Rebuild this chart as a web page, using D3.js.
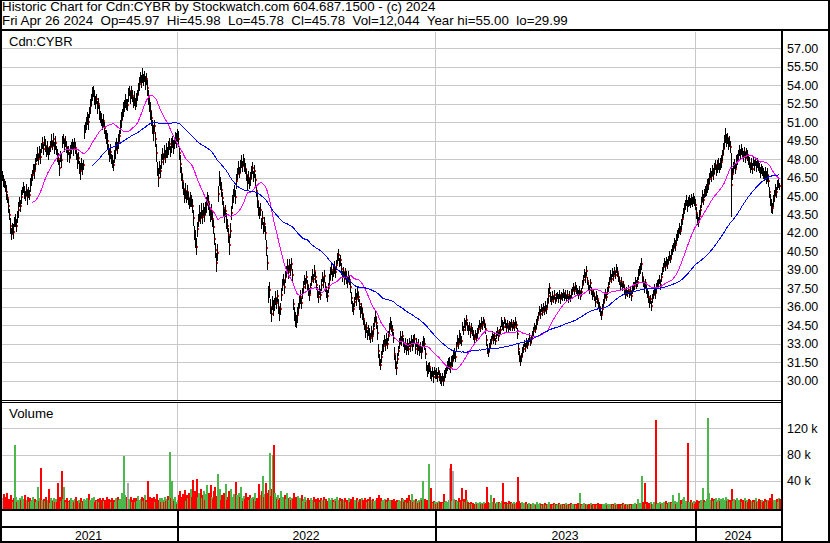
<!DOCTYPE html>
<html><head><meta charset="utf-8">
<script src="https://cdn.jsdelivr.net/npm/d3@7"></script>
<style>
body{margin:0;background:#fff}
svg{display:block}
text{font-family:"Liberation Sans",Arial,sans-serif;fill:#000;white-space:pre}
</style>
</head><body>
<svg id="c" width="830" height="543"></svg>
<script>
// ---------- DATA ----------
const headerLines = [
  "Historic Chart for Cdn:CYBR by Stockwatch.com 604.687.1500 - (c) 2024",
  "Fri Apr 26 2024  Op=45.97  Hi=45.98  Lo=45.78  Cl=45.78  Vol=12,044  Year hi=55.00  lo=29.99"
];
const symbolLabel = "Cdn:CYBR";
const volumeLabel = "Volume";
const priceTicks = [57,55.5,54,52.5,51,49.5,48,46.5,45,43.5,42,40.5,39,37.5,36,34.5,33,31.5,30];
const volumeTicks = [40000,80000,120000];
const years = ["2021","2022","2023","2024"];
const yearStartIdx = [175,433,693];
const maPeriods = [30,90];

// daily closes (one per trading day, left to right)
const close = [
46.6,46.2,46.0,45.8,45.3,44.8,44.2,43.5,
42.6,41.9,42.4,42.1,42.9,43.0,42.6,43.3,
43.9,44.5,44.2,44.9,45.4,45.7,
45.3,45.0,45.5,44.9,45.3,45.1,45.9,
46.3,46.7,47.2,47.0,47.6,
48.1,48.4,48.0,48.6,48.2,
48.9,49.3,48.8,49.5,49.1,
48.6,48.9,48.4,48.7,49.0,
49.5,49.1,49.6,48.9,49.3,
48.7,48.3,48.0,47.3,48.2,
47.9,49.4,49.6,49.1,49.4,
49.0,48.4,48.7,48.1,48.6,
48.9,49.2,48.8,49.3,48.9,
48.4,47.8,48.1,47.3,47.0,
47.6,47.2,47.5,
50.2,50.6,50.9,51.3,51.0,
51.8,52.3,52.8,53.3,53.5,
53.0,52.6,52.9,52.2,52.5,51.8,51.4,
51.2,50.8,51.1,50.5,50.0,49.8,
49.5,48.8,48.3,48.6,48.0,47.8,47.5,48.2,
48.7,49.2,48.9,49.4,49.9,
50.6,51.2,51.6,52.0,
52.3,52.7,52.4,52.4,
53.2,53.5,53.0,53.4,53.1,
52.6,52.9,52.5,52.8,53.2,
53.7,54.1,54.6,54.3,
54.8,54.4,54.7,54.2,54.5,53.8,
53.0,52.4,51.9,
51.3,50.6,50.1,50.7,49.6,
48.5,47.2,46.5,47.3,47.0,
47.8,48.4,48.0,48.6,48.2,48.7,48.5,
48.9,49.2,48.6,49.1,49.4,49.0,
49.3,49.7,49.5,49.9,49.6,
48.5,47.6,46.8,46.2,
45.6,45.0,45.4,44.9,45.3,
44.8,44.4,44.7,44.6,44.2,
43.2,42.0,41.5,40.9,42.3,
43.0,43.6,43.2,43.8,43.3,43.9,43.5,44.0,
44.3,44.8,44.5,
43.9,43.4,43.7,43.1,42.5,
41.5,40.6,39.6,40.4,
45.2,46.4,46.0,45.5,44.8,
44.0,43.4,43.8,43.0,42.6,
41.8,41.0,42.2,
43.6,44.5,45.0,45.4,44.9,
46.2,46.8,47.3,46.9,47.4,
47.8,47.4,47.9,47.5,47.2,
46.7,46.1,46.5,46.0,46.4,
46.9,47.3,46.6,47.0,46.3,
45.4,44.6,44.0,43.6,43.9,
42.8,43.2,42.4,42.7,42.0,
40.8,39.6,37.0,
37.4,36.0,35.4,36.3,
35.9,36.2,36.7,36.3,36.9,
36.0,35.4,35.8,
37.0,37.8,38.2,37.6,38.4,
38.9,39.3,38.8,39.4,39.0,39.5,38.6,
36.2,35.4,35.0,
34.8,35.3,35.9,
36.4,36.8,36.3,37.1,
37.6,38.2,37.9,38.4,37.8,
37.3,37.0,37.5,
38.1,38.6,38.3,38.9,38.4,
37.8,37.2,36.8,37.4,37.0,
37.8,38.4,38.0,38.5,37.6,
37.2,36.9,37.5,
38.2,38.7,39.0,38.5,38.9,39.2,38.8,
39.4,39.9,40.2,39.6,39.8,
39.1,38.5,38.8,38.3,38.7,
38.4,38.0,38.5,38.2,37.6,
36.7,36.0,35.8,
36.4,37.0,36.6,37.2,36.8,
36.2,35.6,35.9,35.4,35.0,
34.5,34.0,34.3,33.7,34.1,
33.8,33.5,34.0,33.6,34.2,
34.8,35.2,34.7,33.9,
32.4,31.7,31.3,31.9,32.5,
32.8,33.3,32.9,33.4,33.0,33.6,
34.2,34.7,34.4,34.1,33.5,
32.2,31.5,31.0,31.8,32.4,
33.0,33.5,33.2,33.6,33.1,
32.7,33.0,32.5,32.9,32.6,
33.1,32.8,33.3,32.9,33.2,
33.4,32.6,33.1,32.5,32.9,
32.4,32.7,32.3,32.8,33.2,
33.0,32.2,
31.2,30.8,31.0,31.1,30.6,
30.4,30.7,30.3,30.8,30.5,
30.6,30.3,30.8,30.4,30.2,
30.0,30.3,30.0,30.4,30.6,
30.9,31.2,31.4,31.4,31.1,
31.6,31.6,32.0,32.2,31.9,
32.8,33.3,33.0,33.6,33.4,
33.2,34.4,34.1,34.7,34.5,34.9,34.4,
34.1,34.4,33.9,34.3,34.0,
33.7,33.4,33.8,33.5,33.9,
34.2,34.6,34.3,34.8,34.5,34.9,34.6,34.2,
33.3,32.6,32.3,32.7,33.0,
33.3,33.7,33.4,33.6,33.2,
33.7,34.0,33.6,33.9,34.1,
34.8,34.5,34.4,34.9,34.6,
34.3,34.6,34.2,34.5,34.4,
34.7,34.3,34.6,34.4,34.8,34.5,33.8,
32.6,32.0,31.6,31.9,32.3,
32.6,33.0,32.7,33.1,32.9,
33.2,33.5,33.1,33.4,33.7,
34.0,34.4,34.2,34.6,34.9,
35.3,35.7,35.4,35.9,35.6,36.0,
35.7,36.1,35.8,36.3,
36.9,37.5,36.8,36.5,36.9,
36.6,37.0,36.5,36.8,36.9,
36.7,37.0,36.6,36.9,36.8,
37.1,36.8,37.0,36.7,37.0,
36.6,36.9,36.7,37.1,37.3,
37.6,37.3,37.7,37.4,37.2,
37.0,37.3,36.9,37.2,37.8,
38.2,38.7,38.4,38.9,38.1,
37.7,37.4,37.9,
37.3,36.9,37.1,
36.8,36.4,36.9,36.6,36.2,
36.0,35.6,35.3,35.8,36.3,
36.7,37.1,36.8,37.3,37.6,
38.1,38.6,38.3,38.8,38.5,
38.9,38.6,39.1,38.8,38.4,
38.1,37.7,38.0,37.6,37.8,
37.4,37.0,37.3,37.1,37.4,
37.0,37.3,36.9,37.4,37.6,
37.7,38.1,37.8,38.0,38.6,
38.9,39.1,39.5,38.4,
38.0,37.6,37.9,37.4,37.1,
36.8,36.3,36.6,36.1,36.7,
37.0,37.4,37.1,37.5,37.8,
37.9,38.2,37.8,38.4,38.9,
39.2,39.6,39.3,39.7,39.5,
39.8,40.1,39.9,40.3,40.6,
40.8,41.2,41.0,41.5,41.8,
42.0,42.4,42.2,42.7,
43.1,43.6,44.0,44.3,44.6,
44.2,44.5,44.6,44.4,44.7,44.5,
44.8,44.6,44.3,
43.6,43.1,42.9,43.4,43.9,
44.5,45.0,44.7,45.2,45.4,
45.5,45.8,46.0,
46.4,46.9,46.6,47.1,46.8,
47.2,47.5,47.1,47.4,47.6,
47.3,47.6,47.8,48.3,
48.8,49.4,49.9,49.5,49.7,49.2,
49.4,49.0,45.9,
46.8,47.3,47.6,47.2,47.8,48.0,
48.3,48.7,48.4,48.8,48.5,
48.2,48.6,48.1,48.5,48.3,47.9,
47.7,47.3,47.6,47.2,47.8,
47.5,47.8,47.4,47.7,47.5,
47.3,46.9,47.2,47.0,46.8,
46.6,46.9,46.5,46.7,46.2,
45.3,44.7,44.2,44.0,44.6,
45.0,45.5,45.3,45.9,
46.0,45.78
];

// daily high-low spread, in tenths of a dollar
const spread = [
8,10,7,9,12,8,11,9,13,10, 9,12,8,11,10,9,13,8,10,11, 7,9,11,8,10,12,9,8,11,10, 9,8,12,10,7,11,9,10,12,8,
10,9,8,11,9,12,10,8,9,11, 8,10,9,12,8,11,10,13,9,12, 10,8,11,9,10,12,8,9,11,10, 9,11,8,10,9,12,10,11,14,9,
10,8,12,9,11,10,13,9,12,10, 11,9,12,10,8,11,9,12,10,11, 9,12,10,8,11,13,9,10,12,8, 10,9,11,14,10,9,12,10,11,13,
9,12,10,11,9,10,12,8,11,10, 10,9,12,10,11,9,10,12,9,11, 12,10,9,11,10,13,12,11,14,12, 11,13,10,12,14,12,16,11,10,12,
10,9,11,10,12,9,11,10,9,12, 10,11,9,10,12,11,13,12,14,11,
12,10,11,13,10,12,11,9,12,10, 11,13,12,15,14,12,11,13,10,12, 11,10,12,11,13,10,12,11,10,13, 12,11,10,12,16,14,13,12,11,12,
10,12,11,10,13,11,12,15,12,11, 11,12,10,11,12,10,11,9,10,11, 9,10,11,9,10,12,10,9,11,10, 10,9,11,10,9,11,12,10,11,9,
11,10,12,11,13,12,14,13,12,12, 11,13,10,11,9,10,12,11,10,11, 10,9,11,10,9,11,10,9,10,9, 10,9,11,12,10,13,9,10,11,9,
9,10,8,9,10,8,9,10,9,8,
9,8,10,9,8,9,10,8,9,10, 8,9,10,8,9,10,8,9,10,9, 8,9,10,9,8,9,10,8,9,10, 9,8,10,9,11,10,9,8,9,10,
9,10,8,9,10,9,8,9,10,9, 10,9,8,10,9,8,9,10,8,9, 9,10,8,9,10,12,11,10,9,10, 9,10,8,9,10,9,8,9,10,9,
8,9,10,11,10,9,8,9,10,8, 9,8,9,10,8,9,10,8,9,8, 9,10,8,9,8,9,10,8,9,10, 9,8,10,9,8,10,9,8,9,8,
8,9,7,8,9,8,7,8,9,8,
7,8,9,8,7,8,9,10,9,8, 9,8,9,8,7,8,9,10,9,8, 8,7,8,9,8,7,8,7,8,7, 7,8,7,6,7,8,7,6,7,8,
7,6,7,8,9,8,7,8,7,6, 7,8,7,6,7,8,7,6,7,8, 8,7,6,7,8,7,6,7,8,7, 6,7,8,7,6,9,10,9,8,7,
8,7,6,7,8,7,6,7,6,7, 6,7,6,7,8,7,6,7,8,7, 7,6,7,8,7,8,12,9,8,7, 7,6,7,6,7,6,7,8,7,6,
6,7,6,7,6,7,6,7,6,7, 7,6,7,6,7,6,7,8,7,6, 7,8,7,9,8,7,6,7,8,7, 7,6,7,8,7,8,7,8,7,8,
8,7,8,7,6,7,8,7,8,7, 7,8,7,6,7,8,7,6,7,8, 7,6,7,8,7,6,7,6,7,8, 7,8,7,6,7,8,9,8,9,10,
9,8,9,8,7,8,9,8,7,8, 7,8,9,10,8,7,8,7,8,7, 7,8,7,8,7,8,7,8,7,8, 8,7,8,9,8,9,8,9,8,9,
9,8,9,8,9,10,8,9,8,9, 8,9,8,9,10,9,8,9,8,9,
10,9,8,9,10,11,10,9,8,9, 9,10,9,8,9,10,9,8,9,10, 9,10,11,12,10,9,10,9,10,52, 10,9,8,9,10,9,8,9,8,9,
8,9,8,9,8,9,8,9,8,9, 9,8,9,8,9,8,9,8,9,8, 8,9,8,9,10,12,10,9,10,11, 9,10,9,10,9,8,7,6
];

// daily volume, thousands of shares
const volumeK = [
14,20,8,15,22,9,12,6,18,10, 8,13,95,16,7,11,9,14,10,17, 12,6,19,8,11,15,7,13,9,10, 16,8,12,7,11,30,9,14,59,10,
7,12,9,15,8,11,27,6,13,10, 9,14,7,12,8,36,11,15,9,55, 12,30,10,8,13,9,7,11,14,6, 10,8,12,15,7,9,11,6,13,8,
9,12,7,10,14,8,20,11,9,13, 6,15,8,11,9,12,7,14,10,8, 13,9,11,6,15,8,12,10,7,14, 9,11,8,13,7,15,10,12,9,22,
14,78,18,11,15,37,12,9,16,8, 11,14,7,13,9,17,10,8,12,15, 9,13,18,11,8,39,12,15,9,14, 10,16,8,12,20,11,9,14,7,13,
11,8,15,9,12,17,10,84,14,39, 12,9,15,7,5,11,18,24,10,15, 20,12,26,9,18,14,22,11,28,16, 41,19,25,12,42,15,21,10,28,13,
18,24,11,20,33,14,22,9,33,16, 12,25,30,17,11,50,14,27,10,19, 13,22,17,35,11,16,24,9,28,15, 12,20,14,38,18,10,22,16,30,13,
9,17,12,21,8,15,11,19,14,10, 16,12,22,9,14,13,35,11,18,24, 48,15,20,36,13,21,26,83,17,28, 80,95,22,16,12,19,10,14,25,11,
15,9,18,12,21,8,13,16,10,14, 12,22,9,15,11,17,8,13,10,19, 9,12,15,8,11,14,7,10,13,9, 11,16,8,12,9,14,10,7,13,11,
8,15,10,12,7,9,14,11,8,13, 10,7,12,9,16,8,11,13,9,12, 8,10,14,7,11,9,13,8,12,10, 15,9,11,7,13,10,8,12,9,14,
10,8,13,11,7,12,9,15,8,10, 12,9,7,11,14,8,18,10,13,9, 11,8,12,10,7,13,9,11,8,10, 7,12,9,6,10,8,11,7,9,13,
12,7,10,8,14,6,18,9,11,20, 8,10,7,12,9,6,11,8,14,10, 40,9,12,7,10,11,65,18,29,8, 6,9,7,5,8,6,9,7,5,8,
6,20,7,9,5,8,11,59,66,9, 55,12,8,10,9,7,14,8,11,29, 9,12,7,26,10,8,6,5,7,4, 6,5,4,7,5,6,4,8,5,6,
5,7,4,6,30,8,5,6,18,7, 5,14,6,4,8,5,7,6,5,9, 36,7,5,8,6,4,9,5,7,6, 5,8,4,6,7,45,9,6,5,8,
4,6,5,7,4,5,6,3,5,4, 6,4,5,3,7,4,5,6,4,3, 5,4,6,3,4,5,7,3,4,5, 3,6,4,5,3,4,6,5,3,4,
5,3,4,6,3,5,4,3,6,4, 3,5,4,3,5,6,4,22,5,3, 4,6,3,5,4,3,5,4,6,3, 4,3,5,4,3,6,4,5,3,4,
5,3,4,6,3,4,5,3,4,5, 3,4,6,3,5,4,3,5,4,3, 6,4,3,5,4,3,4,5,3,4, 5,3,6,4,5,12,4,6,5,48,
8,6,36,5,7,4,6,5,8,4, 5,7,6,132,4,6,5,8,4,6, 5,7,4,9,5,6,8,5,7,6, 18,6,9,5,7,8,22,6,10,5,
12,15,7,9,6,97,8,5,10,7, 6,9,5,8,10,7,9,6,11,8, 29,10,7,9,12,135,22,11,8,14, 9,12,10,13,8,11,14,9,12,10,
13,8,11,15,9,12,10,7,11,28, 9,12,8,10,13,7,11,9,12,8, 10,7,13,9,11,8,12,10,7,9, 11,8,10,13,7,9,12,8,10,11,
7,9,12,8,10,11,9,13,8,20, 9,11,7,10,12,8,14,12
];

// ---------- CHART ----------
const W = 830, H = 543;
const N = close.length;
const svg = d3.select("#c");
const grid = "#c8c8c8";
const GREEN = "#4cb84c", RED = "#ff0000", GRAY = "#a8a8a8";
const FONT = "Liberation Sans, Arial, sans-serif";

const plotL = 2, plotR = 781;
const priceTop = 32, priceBot = 400;
const volTop = 403, volBase = 509;

const x = d3.scaleLinear().domain([0, N - 1]).range([2, 779]);
const y = d3.scaleLinear().domain([30, 57]).range([380.7, 48.3]);
const yv = d3.scaleLinear().domain([0, 120000]).range([507, 428.3]);

const bars = close.map((c, i) => ({
  i, c,
  hi: c + spread[i] / 20,
  lo: c - spread[i] / 20,
  vol: volumeK[i] * 1000,
  dir: i === 0 ? 0 : Math.sign(+(c - close[i - 1]).toFixed(3))
}));

function sma(arr, n) {
  return arr.map((v, i) => i < n - 1 ? null : d3.mean(arr.slice(i - n + 1, i + 1)));
}

svg.append("rect").attr("width", W).attr("height", H).attr("fill", "#fff");

const gridG = svg.append("g").attr("shape-rendering", "crispEdges");
gridG.selectAll(".pg").data(priceTicks).join("rect")
  .attr("x", plotL).attr("width", plotR - plotL)
  .attr("y", d => Math.round(y(d))).attr("height", 1).attr("fill", grid);
gridG.selectAll(".vg").data(volumeTicks).join("rect")
  .attr("x", plotL).attr("width", plotR - plotL)
  .attr("y", d => Math.round(yv(d))).attr("height", 1).attr("fill", grid);
const yearX = yearStartIdx.map(i => Math.round(x(i)));
yearX.forEach(px => {
  gridG.append("rect").attr("x", px).attr("width", 1).attr("y", priceTop).attr("height", priceBot - priceTop).attr("fill", grid);
  gridG.append("rect").attr("x", px).attr("width", 1).attr("y", volTop).attr("height", volBase - volTop).attr("fill", grid);
});

// price bars with red close ticks
const barG = svg.append("g").attr("shape-rendering", "crispEdges");
const bg = barG.selectAll("g").data(bars).join("g");
bg.append("rect")
  .attr("x", d => Math.round(x(d.i)))
  .attr("width", 1)
  .attr("y", d => Math.round(y(d.hi)))
  .attr("height", d => Math.max(1, Math.round(y(d.lo)) - Math.round(y(d.hi))))
  .attr("fill", "#000");
bg.append("rect")
  .attr("x", d => Math.round(x(d.i)) + 1)
  .attr("width", 1)
  .attr("y", d => Math.round(y(d.c)) - 1)
  .attr("height", 2)
  .attr("fill", RED);

// moving averages
const maColors = ["#ff00ff", "#0000ff"];
maPeriods.forEach((p, k) => {
  const m = sma(close, p);
  const line = d3.line()
    .defined(d => d != null)
    .x((d, i) => x(i) + 0.5)
    .y(d => y(d));
  svg.append("path").datum(m).attr("d", line)
    .attr("fill", "none").attr("stroke", maColors[k]).attr("stroke-width", 1)
    .attr("shape-rendering", "crispEdges");
});

// volume bars
const volG = svg.append("g").attr("shape-rendering", "crispEdges");
volG.selectAll("rect").data(bars).join("rect")
  .attr("x", d => Math.round(x(d.i)))
  .attr("width", 2)
  .attr("y", d => Math.round(yv(d.vol)))
  .attr("height", d => volBase - Math.round(yv(d.vol)))
  .attr("fill", d => d.dir > 0 ? GREEN : d.dir < 0 ? RED : GRAY);

// frame lines
const frame = svg.append("g").attr("shape-rendering", "crispEdges").attr("fill", "#000");
const fr = (a, b, w, h) => frame.append("rect").attr("x", a).attr("y", b).attr("width", w).attr("height", h);
fr(0, 0, W, 1);
fr(0, 0, 2, H);
fr(W - 2, 0, 2, H);
fr(0, H - 2, W, 2);
fr(0, 29, W, 2);
fr(plotR, 29, 2, H - 29);
fr(0, 400, plotR, 1);
fr(0, 402, plotR, 1);
fr(0, volBase, plotR, 2);
fr(0, 526, plotR, 2);
yearX.forEach(px => fr(px, volBase, 2, H - volBase));

// header text
svg.selectAll(".hdr").data(headerLines).join("text")
  .attr("x", 2).attr("y", (d, i) => 11 + i * 14)
  .attr("font-size", 13.33).text(d => d);
svg.append("text").attr("x", 9).attr("y", 46).attr("font-size", 13).text(symbolLabel);
svg.append("text").attr("x", 9).attr("y", 418).attr("font-size", 13.33).text(volumeLabel);

// price axis
const pa = svg.append("g").attr("transform", `translate(${plotR + 2},0)`)
  .call(d3.axisRight(y).tickValues(priceTicks).tickFormat(d3.format(".2f")).tickSize(0).tickPadding(4));
pa.select(".domain").remove();
pa.selectAll("text").attr("font-size", 12.5).attr("font-family", FONT).attr("fill", "#000");

// volume axis
const va = svg.append("g").attr("transform", `translate(${plotR + 2},0)`)
  .call(d3.axisRight(yv).tickValues(volumeTicks).tickFormat(d => (d / 1000) + " k").tickSize(0).tickPadding(4));
va.select(".domain").remove();
va.selectAll("text").attr("font-size", 12.5).attr("font-family", FONT).attr("fill", "#000");

// year labels
const bounds = [0, ...yearX, plotR];
svg.selectAll(".yr").data(years).join("text")
  .attr("x", (d, i) => (bounds[i] + bounds[i + 1]) / 2)
  .attr("y", 540).attr("text-anchor", "middle").attr("font-size", 12.2).text(d => d);

if (spread.length !== N || volumeK.length !== N) {
  console.error("length mismatch", N, spread.length, volumeK.length);
}
</script>
</body></html>
